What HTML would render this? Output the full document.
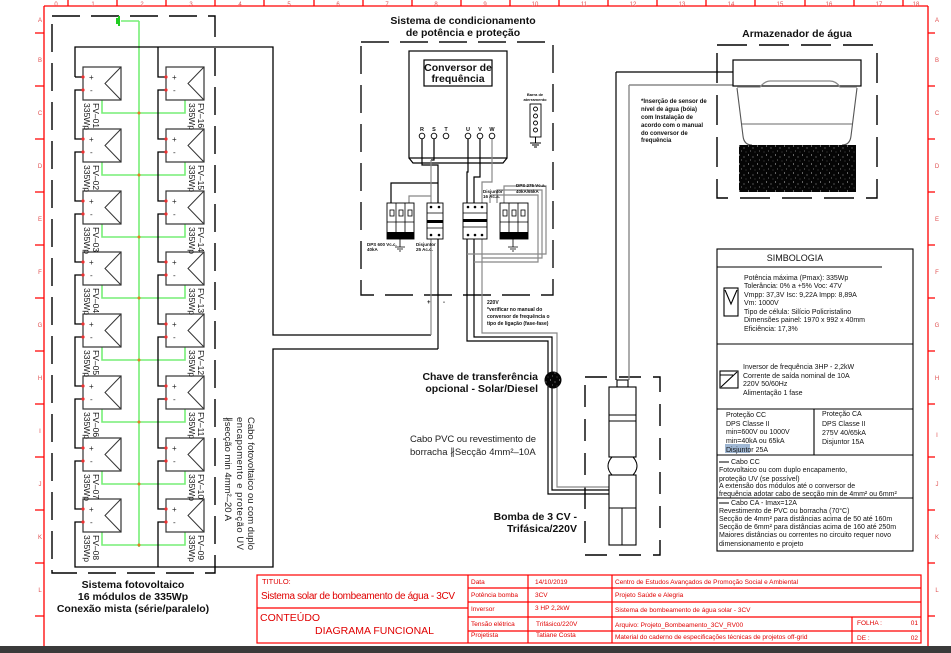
<!DOCTYPE html>
<html><head><meta charset="utf-8"><style>
html,body{margin:0;padding:0;background:#fff}
svg{display:block}
text{font-family:"Liberation Sans",sans-serif}
</style></head><body>
<svg width="951" height="653" viewBox="0 0 951 653" xmlns="http://www.w3.org/2000/svg">
<defs>
<pattern id="sp" width="9" height="9" patternUnits="userSpaceOnUse">
<rect width="9" height="9" fill="#050505"/>
<circle cx="1.5" cy="2" r="0.5" fill="#fff"/><circle cx="6" cy="4" r="0.45" fill="#ddd"/><circle cx="3.5" cy="7" r="0.4" fill="#fff"/><circle cx="8" cy="8" r="0.35" fill="#bbb"/>
</pattern>
</defs>
<rect width="951" height="653" fill="#fff"/>
<rect x="0" y="646" width="951" height="7" fill="#3a3a3a"/>

<g stroke="#ff0000" stroke-width="1.3" fill="none">
<path d="M44,6 H928 M44,6 V646 M928,6 V646"/>
<path d="M68,0V6 M117,0V6 M166,0V6 M215,0V6 M264,0V6 M314,0V6 M363,0V6 M412,0V6 M461,0V6 M510,0V6 M559,0V6 M608,0V6 M657,0V6 M706,0V6 M755,0V6 M805,0V6 M854,0V6 M903,0V6"/>
<path d="M35,33H44 M35,86H44 M35,139H44 M35,192H44 M35,245H44 M35,298H44 M35,351H44 M35,404H44 M35,457H44 M35,510H44 M35,563H44 M35,616H44"/>
<path d="M928,33H935 M928,86H935 M928,139H935 M928,192H935 M928,245H935 M928,298H935 M928,351H935 M928,404H935 M928,457H935 M928,510H935 M928,563H935 M928,616H935"/>
</g>
<g font-size="6" fill="#e05050" text-anchor="middle">
<text x="56" y="6">0</text><text x="93" y="6">1</text><text x="142" y="6">2</text><text x="191" y="6">3</text><text x="240" y="6">4</text><text x="289" y="6">5</text><text x="338" y="6">6</text><text x="387" y="6">7</text><text x="436" y="6">8</text><text x="485" y="6">9</text><text x="535" y="6">10</text><text x="584" y="6">11</text><text x="633" y="6">12</text><text x="682" y="6">13</text><text x="731" y="6">14</text><text x="780" y="6">15</text><text x="829" y="6">16</text><text x="879" y="6">17</text><text x="916" y="6">18</text>
<text x="40" y="22">A</text><text x="40" y="62">B</text><text x="40" y="115">C</text><text x="40" y="168">D</text><text x="40" y="221">E</text><text x="40" y="274">F</text><text x="40" y="327">G</text><text x="40" y="380">H</text><text x="40" y="433">I</text><text x="40" y="486">J</text><text x="40" y="539">K</text><text x="40" y="592">L</text>
<text x="937" y="22">A</text><text x="937" y="62">B</text><text x="937" y="115">C</text><text x="937" y="168">D</text><text x="937" y="221">E</text><text x="937" y="274">F</text><text x="937" y="327">G</text><text x="937" y="380">H</text><text x="937" y="437">I</text><text x="937" y="486">J</text><text x="937" y="539">K</text><text x="937" y="592">L</text>
</g>

<g stroke="#000" stroke-width="1.4" fill="none" stroke-dasharray="28 11">
<rect x="52" y="16" width="163" height="557"/>
<rect x="361" y="42" width="192" height="253" stroke="#111"/>
<rect x="585" y="377" width="75" height="178" stroke-dasharray="22 12"/>
<rect x="717" y="45" width="160" height="153" stroke-dasharray="30 12"/>
</g>

<g stroke="#77ee77" stroke-width="1.6" fill="none">
<path d="M139,21 V547"/>
<path d="M121,21 H139"/>
<path d="M102,100V113H185V100 M102,162V175H185V162 M102,224V237H185V224 M102,285V298H185V285 M102,347V360H185V347 M102,409V422H185V409 M102,471V484H185V471 M102,532V545H185V532"/>
</g>
<path d="M119,16V26 M117,18V24" stroke="#22cc22" stroke-width="2"/>
<g fill="#e08020">
<circle cx="139" cy="113" r="1.5"/><circle cx="139" cy="175" r="1.5"/><circle cx="139" cy="237" r="1.5"/><circle cx="139" cy="298" r="1.5"/><circle cx="139" cy="360" r="1.5"/><circle cx="139" cy="422" r="1.5"/><circle cx="139" cy="484" r="1.5"/><circle cx="139" cy="545" r="1.5"/>
</g>

<g stroke="#000" stroke-width="1.3" fill="none">
<path d="M75,77 V47 H273 V335 H431"/>
<path d="M83,77H75"/>
<path d="M83,90H75V139H83 M83,152H75V201H83 M83,214H75V262H83 M83,275H75V324H83 M83,337H75V386H83 M83,399H75V448H83 M83,461H75V509H83"/>
<path d="M158,47V77H166 M166,90H158V139H166 M166,152H158V201H166 M166,214H158V262H166 M166,275H158V324H166 M166,337H158V386H166 M166,399H158V448H166 M166,461H158V509H166"/>
<path d="M83,522H75V567H273V349H438"/>
<path d="M166,522H158V567"/>
</g>

<g stroke="#333" stroke-width="1.2" fill="#fff">
<rect x="83" y="67" width="38" height="33"/><rect x="83" y="129" width="38" height="33"/><rect x="83" y="191" width="38" height="33"/><rect x="83" y="252" width="38" height="33"/><rect x="83" y="314" width="38" height="33"/><rect x="83" y="376" width="38" height="33"/><rect x="83" y="438" width="38" height="33"/><rect x="83" y="499" width="38" height="33"/>
<rect x="166" y="67" width="38" height="33"/><rect x="166" y="129" width="38" height="33"/><rect x="166" y="191" width="38" height="33"/><rect x="166" y="252" width="38" height="33"/><rect x="166" y="314" width="38" height="33"/><rect x="166" y="376" width="38" height="33"/><rect x="166" y="438" width="38" height="33"/><rect x="166" y="499" width="38" height="33"/>
</g>
<g stroke="#333" stroke-width="1" fill="none">
<path d="M121,67L105,83.5L121,100 M121,129L105,145.5L121,162 M121,191L105,207.5L121,224 M121,252L105,268.5L121,285 M121,314L105,330.5L121,347 M121,376L105,392.5L121,409 M121,438L105,454.5L121,471 M121,499L105,515.5L121,532"/>
<path d="M204,67L188,83.5L204,100 M204,129L188,145.5L204,162 M204,191L188,207.5L204,224 M204,252L188,268.5L204,285 M204,314L188,330.5L204,347 M204,376L188,392.5L204,409 M204,438L188,454.5L204,471 M204,499L188,515.5L204,532"/>
</g>
<g fill="#ee3030">
<circle cx="83" cy="77" r="1.6"/><circle cx="83" cy="90" r="1.6"/><circle cx="83" cy="139" r="1.6"/><circle cx="83" cy="152" r="1.6"/><circle cx="83" cy="201" r="1.6"/><circle cx="83" cy="214" r="1.6"/><circle cx="83" cy="262" r="1.6"/><circle cx="83" cy="275" r="1.6"/><circle cx="83" cy="324" r="1.6"/><circle cx="83" cy="337" r="1.6"/><circle cx="83" cy="386" r="1.6"/><circle cx="83" cy="399" r="1.6"/><circle cx="83" cy="448" r="1.6"/><circle cx="83" cy="461" r="1.6"/><circle cx="83" cy="509" r="1.6"/><circle cx="83" cy="522" r="1.6"/>
<circle cx="166" cy="77" r="1.6"/><circle cx="166" cy="90" r="1.6"/><circle cx="166" cy="139" r="1.6"/><circle cx="166" cy="152" r="1.6"/><circle cx="166" cy="201" r="1.6"/><circle cx="166" cy="214" r="1.6"/><circle cx="166" cy="262" r="1.6"/><circle cx="166" cy="275" r="1.6"/><circle cx="166" cy="324" r="1.6"/><circle cx="166" cy="337" r="1.6"/><circle cx="166" cy="386" r="1.6"/><circle cx="166" cy="399" r="1.6"/><circle cx="166" cy="448" r="1.6"/><circle cx="166" cy="461" r="1.6"/><circle cx="166" cy="509" r="1.6"/><circle cx="166" cy="522" r="1.6"/>
</g>
<g font-size="8" fill="#222">
<text x="89" y="80">+</text><text x="90" y="93">-</text><text x="89" y="142">+</text><text x="90" y="155">-</text><text x="89" y="204">+</text><text x="90" y="217">-</text><text x="89" y="265">+</text><text x="90" y="278">-</text><text x="89" y="327">+</text><text x="90" y="340">-</text><text x="89" y="389">+</text><text x="90" y="402">-</text><text x="89" y="451">+</text><text x="90" y="464">-</text><text x="89" y="512">+</text><text x="90" y="525">-</text>
<text x="172" y="80">+</text><text x="173" y="93">-</text><text x="172" y="142">+</text><text x="173" y="155">-</text><text x="172" y="204">+</text><text x="173" y="217">-</text><text x="172" y="265">+</text><text x="173" y="278">-</text><text x="172" y="327">+</text><text x="173" y="340">-</text><text x="172" y="389">+</text><text x="173" y="402">-</text><text x="172" y="451">+</text><text x="173" y="464">-</text><text x="172" y="512">+</text><text x="173" y="525">-</text>
</g>
<g font-size="8.5" fill="#111">
<text transform="translate(93,103) rotate(90)">FV–01</text><text transform="translate(84,103) rotate(90)">335Wp</text>
<text transform="translate(93,165) rotate(90)">FV–02</text><text transform="translate(84,165) rotate(90)">335Wp</text>
<text transform="translate(93,227) rotate(90)">FV–03</text><text transform="translate(84,227) rotate(90)">335Wp</text>
<text transform="translate(93,288) rotate(90)">FV–04</text><text transform="translate(84,288) rotate(90)">335Wp</text>
<text transform="translate(93,350) rotate(90)">FV–05</text><text transform="translate(84,350) rotate(90)">335Wp</text>
<text transform="translate(93,412) rotate(90)">FV–06</text><text transform="translate(84,412) rotate(90)">335Wp</text>
<text transform="translate(93,474) rotate(90)">FV–07</text><text transform="translate(84,474) rotate(90)">335Wp</text>
<text transform="translate(93,535) rotate(90)">FV–08</text><text transform="translate(84,535) rotate(90)">335Wp</text>
<text transform="translate(198,103) rotate(90)">FV–16</text><text transform="translate(189,103) rotate(90)">335Wp</text>
<text transform="translate(198,165) rotate(90)">FV–15</text><text transform="translate(189,165) rotate(90)">335Wp</text>
<text transform="translate(198,227) rotate(90)">FV–14</text><text transform="translate(189,227) rotate(90)">335Wp</text>
<text transform="translate(198,288) rotate(90)">FV–13</text><text transform="translate(189,288) rotate(90)">335Wp</text>
<text transform="translate(198,350) rotate(90)">FV–12</text><text transform="translate(189,350) rotate(90)">335Wp</text>
<text transform="translate(198,412) rotate(90)">FV–11</text><text transform="translate(189,412) rotate(90)">335Wp</text>
<text transform="translate(198,474) rotate(90)">FV–10</text><text transform="translate(189,474) rotate(90)">335Wp</text>
<text transform="translate(198,535) rotate(90)">FV–09</text><text transform="translate(189,535) rotate(90)">335Wp</text>
</g>
<g font-size="9.5" fill="#222">
<text transform="translate(248,417) rotate(90)" textLength="133">Cabo fotovoltaico ou com duplo</text>
<text transform="translate(237,417) rotate(90)" textLength="133">encapomento e proteção UV</text>
<text transform="translate(225,417) rotate(90)">∦secção min 4mm²–20 A</text>
</g>
<g font-size="10.5" font-weight="bold" fill="#111" text-anchor="middle">
<text x="133" y="588">Sistema fotovoltaico</text>
<text x="133" y="600">16 módulos de 335Wp</text>
<text x="133" y="612">Conexão mista (série/paralelo)</text>
</g>

<g font-size="10.5" font-weight="bold" fill="#111" text-anchor="middle">
<text x="463" y="24">Sistema de condicionamento</text>
<text x="463" y="36">de potência e proteção</text>
</g>
<g stroke="#000" stroke-width="1.2" fill="none">
<rect x="409" y="51" width="98" height="107" fill="#fff"/>
<path d="M409,158L413,163H503L507,158"/>
<rect x="424" y="60" width="68" height="26"/>
</g>
<g font-size="10.5" font-weight="bold" fill="#111" text-anchor="middle">
<text x="458" y="71">Conversor de</text><text x="458" y="82">frequência</text>
</g>
<g font-size="5.5" font-weight="bold" fill="#111" text-anchor="middle">
<text x="422" y="131">R</text><text x="434" y="131">S</text><text x="446" y="131">T</text><text x="468" y="131">U</text><text x="480" y="131">V</text><text x="492" y="131">W</text>
<text x="535" y="96" font-size="4">Barra de</text><text x="535" y="101" font-size="4">aterramento</text>
</g>
<g stroke="#000" stroke-width="0.9" fill="#fff">
<circle cx="422" cy="136" r="2.8"/><circle cx="434" cy="136" r="2.8"/><circle cx="446" cy="136" r="2.8"/><circle cx="468" cy="136" r="2.8"/><circle cx="480" cy="136" r="2.8"/><circle cx="492" cy="136" r="2.8"/>
<rect x="530" y="104" width="11" height="33"/>
<circle cx="535.5" cy="109" r="2"/><circle cx="535.5" cy="116" r="2"/><circle cx="535.5" cy="123" r="2"/><circle cx="535.5" cy="130" r="2"/>
</g>
<path d="M535.5,137V143 M530,143H541 M532,145H539 M534,147H537" stroke="#000" stroke-width="1"/>

<g stroke="#000" stroke-width="1.2" fill="none">
<path d="M422,139V165H438V349"/>
<path d="M434,139V160H431"/>
<path d="M438,183H391V203"/>
<path d="M468,139V172H467V341H548V494H609"/>
<path d="M480,139V177H474V337H552V490H609"/>
</g>
<g stroke="#888" stroke-width="1.2" fill="none">
<path d="M431,160V335"/>
<path d="M431,196H409V203"/>
<path d="M492,139V182H482V333H557V487H609"/>
<path d="M490,203V195H538V262H474 M497,203V190H542V258H482 M504,203V186H546V254H467"/>
</g>

<g stroke="#000" stroke-width="0.9" fill="#fff">
<rect x="387" y="203" width="27" height="36"/>
<rect x="427" y="203" width="16" height="36"/>
<rect x="463" y="203" width="24" height="36"/>
<rect x="500" y="203" width="28" height="36"/>
</g>
<g fill="#000">
<rect x="387" y="232" width="27" height="7"/><rect x="500" y="232" width="28" height="7"/>
<rect x="427" y="220" width="16" height="3"/><rect x="463" y="219" width="24" height="3"/>
<circle cx="431" cy="207" r="1.3"/><circle cx="439" cy="207" r="1.3"/><circle cx="431" cy="235" r="1.3"/><circle cx="439" cy="235" r="1.3"/>
<circle cx="468" cy="207" r="1.3"/><circle cx="475" cy="207" r="1.3"/><circle cx="482" cy="207" r="1.3"/><circle cx="468" cy="235" r="1.3"/><circle cx="475" cy="235" r="1.3"/><circle cx="482" cy="235" r="1.3"/>
</g>
<g stroke="#000" stroke-width="0.8" fill="none">
<path d="M396,203V239 M405,203V239 M509,203V239 M518,203V239"/>
<rect x="390" y="210" width="4" height="6"/><rect x="399" y="210" width="4" height="6"/><rect x="408" y="210" width="4" height="6"/>
<rect x="503" y="210" width="4" height="6"/><rect x="512" y="210" width="4" height="6"/><rect x="521" y="210" width="4" height="6"/>
<path d="M387,222H414 M500,222H528 M427,213H443 M463,213H487 M463,227H487 M427,228H443"/>
<path d="M400,239V247 M395,247H405 M397,249H403 M399,251H401"/>
<path d="M513,239V247 M508,247H518 M510,249H516 M512,251H514"/>
</g>
<g font-size="4.5" font-weight="bold" fill="#111">
<text x="367" y="246">DPS 600 Vc.c.</text><text x="367" y="251">40kA</text>
<text x="416" y="246">Disjuntor</text><text x="416" y="251">25 Ac.c.</text>
<text x="483" y="193">Disjuntor</text><text x="483" y="198">16 Ac.a.</text>
<text x="516" y="187">DPS 275 Vc.a.</text><text x="516" y="193">40kA/65kA</text>
</g>
<g font-size="6" font-weight="bold" fill="#111">
<text x="427" y="304">+</text><text x="443" y="304">-</text>
</g>
<g font-size="5" font-weight="bold" fill="#111">
<text x="487" y="304">220V</text>
<text x="487" y="311">*verificar no manual do</text>
<text x="487" y="318">conversor de frequência o</text>
<text x="487" y="325">tipo de ligação (fase-fase)</text>
</g>

<circle cx="553" cy="380" r="8.5" fill="url(#sp)"/>
<g font-size="10.5" font-weight="bold" fill="#111" text-anchor="end">
<text x="538" y="380">Chave de transferência</text>
<text x="538" y="392">opcional - Solar/Diesel</text>
<text x="577" y="520">Bomba  de 3 CV -</text>
<text x="577" y="532">Trifásica/220V</text>
</g>
<g font-size="9.5" fill="#222">
<text x="410" y="442" textLength="126">Cabo PVC ou revestimento de</text>
<text x="410" y="455">borracha ∦Secção 4mm²–10A</text>
</g>

<path d="M616,72V380 M616,72H733" stroke="#000" stroke-width="1.2" fill="none"/>
<path d="M629,85V380 M629,85H733" stroke="#888" stroke-width="1.4" fill="none"/>
<g stroke="#000" stroke-width="1.1" fill="#fff">
<rect x="617" y="380" width="11" height="7"/>
<rect x="609" y="387" width="27" height="70"/>
<rect x="609" y="475" width="27" height="70"/>
</g>
<g stroke="#000" stroke-width="1" fill="none">
<path d="M609,415H636 M609,421H636 M609,508H636 M622,508V545"/>
<path d="M612,457Q604,466 612,475 M633,457Q641,466 633,475"/>
</g>

<g font-size="10.5" font-weight="bold" fill="#111" text-anchor="middle"><text x="797" y="37">Armazenador de água</text></g>
<rect x="733" y="60" width="128" height="26" fill="#fff" stroke="#000" stroke-width="1.2"/>
<path d="M737,88 L743,136 Q744,145 752,145 M857,88 L851,136 Q850,145 842,145" stroke="#555" stroke-width="1.1" fill="none"/>
<path d="M737,87 H760 Q765,81 770,81 H830 Q836,81 840,87 H857" stroke="#888" stroke-width="1.3" fill="none"/>
<path d="M742,124H852" stroke="#888" stroke-width="1.3"/>
<rect x="739" y="145" width="117" height="47" fill="url(#sp)"/>
<g font-size="6" font-weight="bold" fill="#111">
<text x="641" y="103">*Inserção de sensor de</text>
<text x="641" y="111">nível de água (bóia)</text>
<text x="641" y="119">com Instalação de</text>
<text x="641" y="127">acordo com o manual</text>
<text x="641" y="135">do conversor de</text>
<text x="641" y="142">frequência</text>
</g>

<g stroke="#000" stroke-width="1.1" fill="none">
<rect x="717" y="249" width="196" height="302"/>
<path d="M717,267H882 M717,344H913 M717,409H913 M717,455H913 M717,498H913 M814,409V455"/>
<rect x="724" y="288" width="14" height="28"/>
<path d="M725,290L731,304L737,290"/>
<rect x="720" y="371" width="18" height="17"/>
<path d="M721,387L737,372 M720,375H733"/>
<path d="M719,462H729 M719,503H729"/>
</g>
<rect x="725" y="444" width="25" height="9" fill="#9fb7d3"/>
<g font-size="9" fill="#111"><text x="795" y="261" text-anchor="middle">SIMBOLOGIA</text></g>
<g font-size="7" fill="#111">
<text x="744" y="280">Potência máxima (Pmax): 335Wp</text>
<text x="744" y="288">Tolerância: 0% a +5%   Voc: 47V</text>
<text x="744" y="297">Vmpp: 37,3V Isc: 9,22A Impp: 8,89A</text>
<text x="744" y="305">Vm: 1000V</text>
<text x="744" y="314">Tipo de célula: Silício Policristalino</text>
<text x="744" y="322">Dimensões painel:  1970 x 992 x 40mm</text>
<text x="744" y="331">Eficiência: 17,3%</text>
<text x="743" y="369">Inversor  de frequência 3HP - 2,2kW</text>
<text x="743" y="378">Corrente de saída nominal de 10A</text>
<text x="743" y="386">220V 50/60Hz</text>
<text x="743" y="395">Alimentação 1 fase</text>
<text x="726" y="417">Proteção CC</text>
<text x="726" y="426">DPS Classe II</text>
<text x="726" y="434">min=600V ou 1000V</text>
<text x="726" y="443">min=40kA ou 65kA</text>
<text x="726" y="452">Disjuntor 25A</text>
<text x="822" y="416">Proteção CA</text>
<text x="822" y="426">DPS Classe II</text>
<text x="822" y="435">275V 40/65kA</text>
<text x="822" y="444">Disjuntor 15A</text>
<text x="731" y="464">Cabo CC</text>
<text x="719" y="472">Fotovoltaico ou com duplo encapamento,</text>
<text x="719" y="481">proteção UV (se possível)</text>
<text x="719" y="488">A extensão dos módulos até o conversor de</text>
<text x="719" y="496">frequência adotar cabo de secção min de 4mm² ou 6mm²</text>
<text x="731" y="505">Cabo CA - Imax=12A</text>
<text x="719" y="513">Revestimento de PVC ou borracha (70°C)</text>
<text x="719" y="521">Secção de 4mm² para distâncias acima de 50 até 160m</text>
<text x="719" y="529">Secção de 6mm² para distâncias acima de 160 até 250m</text>
<text x="719" y="537">Maiores distâncias ou correntes no circuito requer novo</text>
<text x="719" y="546">dimensionamento e projeto</text>
</g>

<g stroke="#ff0000" stroke-width="1.2" fill="none">
<rect x="257" y="575" width="664" height="68"/>
<path d="M257,608H468 M468,575V643 M528,575V643 M612,575V643 M468,588H921 M468,602H921 M468,617H921 M468,631H921 M852,617V643"/>
</g>
<g fill="#e00000">
<text x="262" y="584" font-size="7.5">TITULO:</text>
<text x="261" y="599" font-size="10" textLength="194">Sistema solar de bombeamento de água - 3CV</text>
<text x="260" y="621" font-size="10.5">CONTEÚDO</text>
<text x="315" y="634" font-size="10.5">DIAGRAMA FUNCIONAL</text>
<g font-size="6.5">
<text x="471" y="584">Data</text><text x="535" y="584">14/10/2019</text><text x="615" y="584">Centro de Estudos Avançados de Promoção Social e Ambiental</text>
<text x="471" y="597">Potência bomba</text><text x="535" y="597">3CV</text><text x="615" y="597">Projeto Saúde e Alegria</text>
<text x="471" y="611">Inversor</text><text x="535" y="610">3 HP 2,2kW</text><text x="615" y="612">Sistema de bombeamento de água solar - 3CV</text>
<text x="471" y="626">Tensão elétrica</text><text x="536" y="626">Trifásico/220V</text><text x="615" y="627">Arquivo: Projeto_Bombeamento_3CV_RV00</text><text x="857" y="625">FOLHA :</text><text x="918" y="625" text-anchor="end">01</text>
<text x="471" y="637">Projetista</text><text x="536" y="637">Tatiane Costa</text><text x="615" y="639">Material do caderno de especificações técnicas de projetos off-grid</text><text x="857" y="640">DE :</text><text x="918" y="640" text-anchor="end">02</text>
</g>
</g>
</svg>
</body></html>
